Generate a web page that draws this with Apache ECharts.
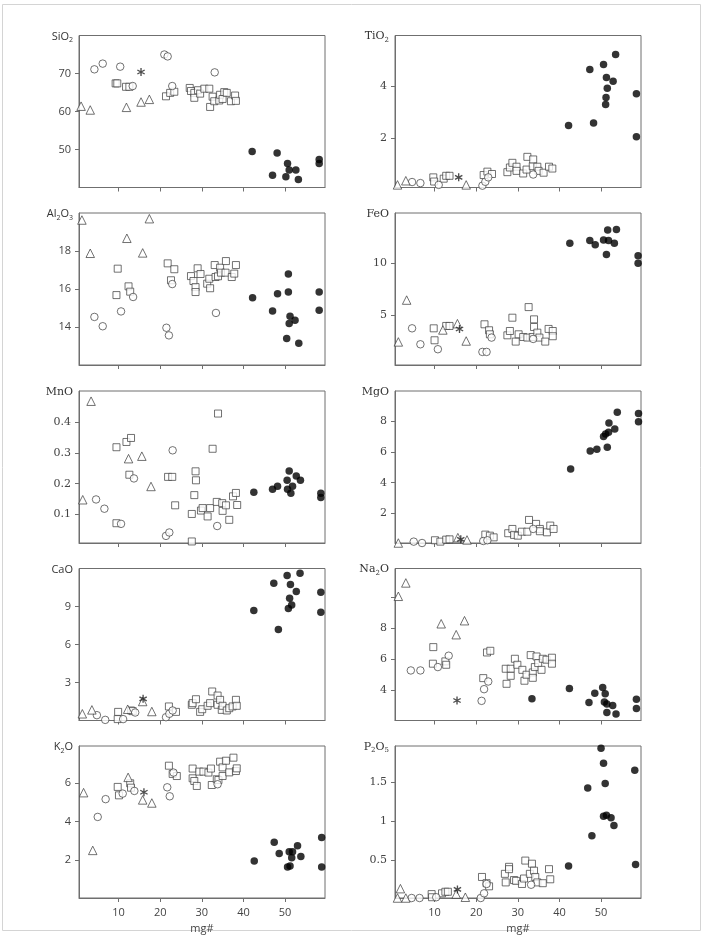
<!DOCTYPE html>
<html>
<head>
<meta charset="utf-8">
<script src="https://cdn.jsdelivr.net/npm/echarts@6/dist/echarts.min.js"></script>
<style>
html,body{margin:0;padding:0;background:#fff;}
#chart{width:705px;height:936px;}
</style>
</head>
<body>
<div id="chart"></div>
<script>
// mg# vs oxide. [mg#, wt%]
var xTicks = [10, 20, 30, 40, 50];

var sio2Tri  = [[1.0,61.4],[3.2,60.4],[11.9,61.1],[15.4,62.5],[17.4,63.2]];
var sio2Circ = [[4.2,71.1],[6.2,72.6],[10.4,71.8],[21.0,75.0],[21.8,74.5],[13.4,66.7],[22.9,66.7],[33.1,70.3]];
var sio2Sq   = [[9.3,67.4],[9.7,67.4],[11.8,66.5],[12.6,66.5],[21.4,64.0],[22.4,64.9],[23.4,65.2],[27.1,66.2],[27.4,65.4],[28.2,64.9],[28.2,63.6],[29.1,65.6],[29.6,64.7],[30.6,66.0],[31.8,66.0],[32.0,61.2],[32.6,63.9],[33.0,62.7],[34.2,62.9],[34.4,64.4],[35.0,63.3],[35.4,65.1],[36.0,64.9],[37.0,62.7],[38.0,64.2],[38.2,62.8]];
var sio2Star = [[15.4,70.4]];
var sio2Fill = [[42.1,49.5],[47.0,43.2],[48.1,49.1],[50.6,46.3],[51.0,44.6],[50.2,42.8],[52.6,44.6],[53.2,42.1],[58.2,47.4],[58.2,46.3]];

var tio2Tri  = [[1.1,0.2],[3.1,0.36],[17.6,0.2]];
var tio2Circ = [[4.6,0.31],[6.6,0.27],[11.0,0.2],[21.5,0.17],[22.2,0.32],[22.9,0.49],[33.7,0.6]];
var tio2Sq   = [[9.7,0.49],[9.9,0.33],[12.2,0.44],[12.8,0.55],[13.6,0.55],[21.8,0.58],[22.7,0.71],[23.8,0.62],[27.5,0.69],[28.1,0.87],[28.7,1.05],[29.7,0.9],[29.7,0.74],[31.3,0.64],[32.1,0.79],[32.3,1.28],[33.6,0.92],[33.7,1.18],[34.7,0.9],[35.0,0.74],[36.2,0.67],[37.5,0.9],[38.3,0.83]];
var tio2Star = [[15.8,0.49]];
var tio2Fill = [[42.2,2.49],[47.3,4.64],[48.2,2.58],[50.6,4.83],[51.3,4.33],[51.5,3.92],[51.2,3.56],[51.1,3.29],[52.9,4.19],[53.5,5.22],[58.5,3.71],[58.5,2.05]];

var al2o3Tri  = [[1.2,19.63],[3.2,17.88],[12.0,18.67],[15.8,17.9],[17.4,19.7]];
var al2o3Circ = [[4.2,14.53],[6.2,14.04],[10.6,14.82],[13.5,15.58],[21.5,13.96],[22.1,13.56],[22.9,16.26],[33.4,14.74]];
var al2o3Sq   = [[9.8,17.07],[9.5,15.68],[12.4,16.14],[12.8,15.86],[21.8,17.35],[23.4,17.04],[22.6,16.46],[27.4,16.68],[28.0,16.42],[28.5,16.1],[28.5,15.84],[29.0,17.09],[29.7,16.79],[31.3,16.28],[32.0,16.04],[31.8,16.54],[33.1,17.26],[33.3,16.63],[33.9,16.67],[34.4,17.12],[34.6,16.86],[35.8,17.47],[35.7,16.86],[37.2,16.63],[37.8,16.81],[38.2,17.26]];
var al2o3Star = [];
var al2o3Fill = [[42.2,15.54],[47.0,14.84],[48.2,15.75],[50.8,16.79],[50.8,15.84],[51.2,14.56],[51.0,14.18],[52.4,14.35],[50.4,13.39],[53.3,13.14],[58.2,15.84],[58.2,14.88]];

var feoTri  = [[1.3,2.39],[3.3,6.45],[12.0,3.55],[15.5,4.16],[17.6,2.48]];
var feoCirc = [[4.6,3.71],[6.6,2.16],[10.8,1.68],[21.5,1.42],[22.5,1.42],[23.7,2.81],[33.7,2.68]];
var feoSq   = [[9.8,3.71],[10.0,2.55],[12.8,3.94],[13.6,3.94],[22.0,4.1],[23.1,3.52],[23.3,3.13],[27.5,3.03],[28.1,3.45],[28.7,4.74],[29.5,2.42],[30.2,3.13],[31.3,2.87],[32.3,2.81],[32.6,5.77],[33.6,2.87],[33.9,4.58],[33.9,3.84],[34.7,3.29],[35.2,2.81],[36.6,2.42],[37.4,3.65],[38.4,3.45],[38.4,2.94]];
var feoStar = [[16.0,3.65]];
var feoFill = [[42.5,11.97],[47.3,12.23],[48.6,11.81],[50.6,12.29],[51.6,13.26],[51.8,12.23],[51.3,10.87],[53.2,11.97],[53.7,13.29],[58.9,10.74],[58.9,10.03]];

var mnoTri  = [[1.4,0.148],[3.4,0.467],[12.4,0.281],[15.6,0.289],[17.8,0.191]];
var mnoCirc = [[4.6,0.149],[6.6,0.119],[10.6,0.07],[13.7,0.217],[21.4,0.031],[22.2,0.042],[23.0,0.308],[33.7,0.063]];
var mnoSq   = [[9.5,0.318],[9.5,0.072],[11.9,0.335],[13.0,0.348],[12.6,0.229],[21.9,0.222],[22.9,0.222],[23.6,0.13],[27.6,0.102],[27.6,0.013],[28.2,0.163],[28.5,0.24],[28.6,0.211],[29.8,0.113],[30.2,0.121],[31.4,0.094],[32.0,0.121],[32.6,0.313],[33.9,0.427],[33.6,0.141],[34.9,0.137],[35.0,0.112],[35.8,0.13],[36.6,0.083],[37.5,0.159],[38.2,0.17],[38.5,0.131]];
var mnoStar = [];
var mnoFill = [[42.5,0.172],[47.0,0.182],[48.2,0.192],[51.0,0.241],[50.5,0.211],[50.6,0.182],[51.4,0.169],[51.8,0.192],[52.7,0.225],[53.7,0.211],[58.6,0.169],[58.6,0.155]];

var mgoTri  = [[1.3,0.05],[15.6,0.4],[17.8,0.25]];
var mgoCirc = [[5.0,0.14],[7.0,0.05],[21.7,0.18],[22.7,0.23],[33.7,0.97]];
var mgoSq   = [[10.1,0.23],[11.4,0.14],[12.8,0.27],[13.6,0.29],[22.2,0.6],[23.3,0.53],[24.2,0.42],[27.7,0.69],[28.7,0.97],[29.1,0.58],[30.0,0.53],[31.0,0.79],[32.3,0.79],[32.7,1.56],[34.4,1.3],[35.3,0.97],[35.3,0.82],[37.0,0.75],[37.8,1.19],[38.6,0.97]];
var mgoStar = [[16.3,0.29]];
var mgoFill = [[42.7,4.9],[47.4,6.08],[49.0,6.19],[50.6,7.02],[51.1,7.19],[51.8,7.3],[51.5,6.32],[51.9,7.91],[53.3,7.52],[53.9,8.61],[59.0,8.52],[59.0,7.98]];

var caoTri  = [[1.3,0.53],[3.6,0.84],[12.2,0.89],[15.8,1.5],[18.0,0.71]];
var caoCirc = [[4.8,0.42],[6.8,0.05],[11.1,0.11],[14.0,0.63],[21.4,0.26],[22.2,0.53],[23.0,0.79]];
var caoSq   = [[9.9,0.68],[9.8,0.11],[13.0,0.79],[13.4,0.74],[22.1,1.11],[23.8,0.68],[27.6,1.24],[27.8,1.37],[28.6,1.68],[29.6,0.68],[30.1,0.89],[31.4,1.16],[32.0,1.37],[32.5,2.29],[33.8,1.97],[33.8,1.24],[34.4,1.63],[34.8,0.84],[35.0,1.16],[36.0,0.79],[36.6,0.97],[37.4,1.11],[38.2,1.63],[38.4,1.16]];
var caoStar = [[15.9,1.71]];
var caoFill = [[42.5,8.68],[47.3,10.84],[48.4,7.18],[50.5,11.45],[51.3,10.74],[51.1,9.66],[50.8,8.84],[51.6,9.11],[52.7,10.18],[53.6,11.63],[58.6,10.13],[58.6,8.55]];

var na2oTri  = [[1.3,10.09],[3.1,10.96],[11.6,8.3],[15.2,7.59],[17.2,8.5]];
var na2oCirc = [[4.3,5.26],[6.6,5.26],[10.8,5.48],[13.4,6.22],[21.3,3.28],[21.9,4.04],[22.9,4.54]];
var na2oSq   = [[9.7,6.78],[9.6,5.7],[12.6,5.85],[12.8,5.63],[22.6,6.43],[23.4,6.54],[21.7,4.76],[27.3,4.39],[27.1,5.37],[28.3,5.37],[28.3,4.91],[29.3,6.02],[29.9,5.63],[31.1,5.3],[31.6,4.59],[32.1,4.98],[33.1,6.26],[33.6,5.13],[33.6,4.78],[34.1,5.48],[34.5,6.17],[34.9,5.74],[35.7,5.3],[36.0,6.02],[36.9,5.96],[38.2,6.09],[38.2,5.7]];
var na2oStar = [[15.4,3.3]];
var na2oFill = [[33.4,3.41],[42.4,4.09],[47.1,3.17],[48.5,3.78],[50.4,4.15],[51.0,3.74],[50.8,3.2],[51.4,3.07],[51.4,2.52],[52.8,2.98],[53.6,2.43],[58.5,3.39],[58.5,2.78]];

var k2oTri  = [[1.6,5.51],[3.8,2.49],[12.3,6.31],[15.8,5.13],[18.0,4.97]];
var k2oCirc = [[5.0,4.24],[6.9,5.17],[11.0,5.46],[13.8,5.6],[21.7,5.79],[22.3,5.32],[23.2,6.56],[33.8,5.95]];
var k2oSq   = [[9.8,5.81],[10.1,5.37],[12.8,6.0],[13.0,5.77],[22.1,6.92],[23.0,6.49],[24.0,6.38],[27.8,6.77],[27.8,6.26],[28.2,6.12],[28.8,5.86],[29.4,6.61],[30.4,6.61],[31.6,6.56],[32.2,6.77],[32.4,5.91],[33.6,6.21],[34.0,6.17],[34.4,7.13],[35.0,6.38],[35.0,6.83],[35.8,7.18],[36.6,6.57],[37.6,7.34],[38.2,6.64],[38.4,6.78]];
var k2oStar = [[16.1,5.53]];
var k2oFill = [[42.6,1.93],[47.4,2.92],[48.6,2.33],[51.0,2.42],[51.8,2.42],[51.6,2.1],[50.6,1.62],[51.2,1.67],[53.0,2.73],[53.8,2.17],[58.8,3.17],[58.8,1.62]];

var p2o5Tri  = [[1.1,0.01],[1.8,0.13],[3.1,0.01],[15.2,0.06],[17.4,0.02]];
var p2o5Circ = [[4.5,0.01],[6.4,0.01],[10.4,0.02],[21.1,0.01],[21.9,0.07],[22.5,0.19],[33.2,0.18]];
var p2o5Sq   = [[9.3,0.06],[9.4,0.02],[11.8,0.07],[12.6,0.09],[13.2,0.09],[21.4,0.28],[22.5,0.2],[23.1,0.16],[26.9,0.32],[27.1,0.21],[27.9,0.41],[27.9,0.38],[29.1,0.24],[29.6,0.23],[31.0,0.19],[31.5,0.26],[31.8,0.49],[32.9,0.32],[33.4,0.45],[33.9,0.36],[34.2,0.28],[34.7,0.21],[36.0,0.2],[37.5,0.38],[37.8,0.25]];
var p2o5Star = [[15.5,0.12]];
var p2o5Fill = [[42.2,0.42],[46.8,1.42],[47.8,0.81],[50.0,1.93],[50.6,1.74],[51.0,1.48],[50.6,1.06],[51.3,1.07],[52.4,1.04],[53.1,0.94],[58.1,1.65],[58.3,0.44]];

var SANS = '"Open Sans", sans-serif';
var SERIF = '"DejaVu Serif", serif';

var panels = [
	{label:'{n|SiO}{s|2}', col:0, row:0, min:40, max:80, ticks:[50,60,70], labels:[50,60,70], font:SANS,
		tri:sio2Tri, circ:sio2Circ, sq:sio2Sq, star:sio2Star, fill:sio2Fill},
	{label:'{n|TiO}{s|2}', col:1, row:0, min:0.1, max:5.95, ticks:[2,4], labels:[2,4], font:SERIF,
		tri:tio2Tri, circ:tio2Circ, sq:tio2Sq, star:tio2Star, fill:tio2Fill},
	{label:'{n|Al}{s|2}{n|O}{s|3}', col:0, row:1, min:12, max:20, ticks:[14,16,18], labels:[14,16,18], font:SANS,
		tri:al2o3Tri, circ:al2o3Circ, sq:al2o3Sq, star:al2o3Star, fill:al2o3Fill},
	{label:'{n|FeO}', col:1, row:1, min:0.15, max:14.9, ticks:[5,10], labels:[5,10], font:SERIF,
		tri:feoTri, circ:feoCirc, sq:feoSq, star:feoStar, fill:feoFill},
	{label:'{n|MnO}', col:0, row:2, min:0.008, max:0.5, ticks:[0.1,0.2,0.3,0.4], labels:[0.1,0.2,0.3,0.4], font:SERIF,
		tri:mnoTri, circ:mnoCirc, sq:mnoSq, star:mnoStar, fill:mnoFill},
	{label:'{n|MgO}', col:1, row:2, min:0.05, max:10, ticks:[2,4,6,8], labels:[2,4,6,8], font:SERIF,
		tri:mgoTri, circ:mgoCirc, sq:mgoSq, star:mgoStar, fill:mgoFill},
	{label:'{n|CaO}', col:0, row:3, min:0, max:12, ticks:[3,6,9], labels:[3,6,9], font:SANS,
		tri:caoTri, circ:caoCirc, sq:caoSq, star:caoStar, fill:caoFill},
	{label:'{n|Na}{s|2}{n|O}', col:1, row:3, min:2, max:11.9, ticks:[4,6,8,10], labels:[4,6,8], font:SERIF,
		tri:na2oTri, circ:na2oCirc, sq:na2oSq, star:na2oStar, fill:na2oFill},
	{label:'{n|K}{s|2}{n|O}', col:0, row:4, min:0, max:7.95, ticks:[2,4,6], labels:[2,4,6], font:SANS,
		tri:k2oTri, circ:k2oCirc, sq:k2oSq, star:k2oStar, fill:k2oFill},
	{label:'{n|P}{s|2}{n|O}{s|5}', col:1, row:4, min:0.01, max:1.96, ticks:[0.5,1,1.5], labels:[0.5,1,1.5], font:SERIF,
		tri:p2o5Tri, circ:p2o5Circ, sq:p2o5Sq, star:p2o5Star, fill:p2o5Fill}
];

var colLeft = [79, 395];
var rowTop = [35.5, 213, 391, 568.5, 746];
var PW = 246, PH = 152;
var AXIS = '#6f6f6f';

// asterisk made of three bars
var STAR = 'path://M-1.6,-10L1.6,-10L1.6,10L-1.6,10Z M9.46,3.61L7.86,6.39L-9.46,-3.61L-7.86,-6.39Z M-7.86,6.39L-9.46,3.61L7.86,-6.39L9.46,-3.61Z';

var grid = [], xAxis = [], yAxis = [], series = [], graphic = [];

graphic.push({type:'rect', shape:{x:2.5, y:4.5, width:698, height:926}, style:{fill:'none', stroke:'#d4d4d4', lineWidth:1}, silent:true});

panels.forEach(function(p, i){
	var left = colLeft[p.col], top = rowTop[p.row];
	var bottomRow = p.row == 4;
	grid.push({left:left, top:top, width:PW, height:PH, show:true, borderColor:AXIS, borderWidth:1});
	xAxis.push({
		gridIndex:i, type:'value', min:0.5, max:59.6,
		axisLine:{show:true, lineStyle:{color:AXIS}},
		axisTick:{show:true, length:4, customValues:xTicks, lineStyle:{color:AXIS}},
		axisLabel:{show:bottomRow, customValues:xTicks, margin:9, fontSize:11, color:'#444', fontFamily:SANS},
		splitLine:{show:false},
		name: bottomRow ? 'mg#' : '',
		nameLocation:'middle', nameGap:25,
		nameTextStyle:{fontSize:11, color:'#444', fontFamily:SANS}
	});
	yAxis.push({
		gridIndex:i, type:'value', min:p.min, max:p.max,
		axisLine:{show:true, lineStyle:{color:AXIS}},
		axisTick:{show:true, length:4, customValues:p.ticks, lineStyle:{color:AXIS}},
		axisLabel:{customValues:p.labels, margin:8, fontSize:11, color:'#444', fontFamily:p.font},
		splitLine:{show:false}
	});

	var base = {type:'scatter', xAxisIndex:i, yAxisIndex:i, silent:true, animation:false};
	series.push(Object.assign({}, base, {data:p.sq, symbol:'rect', symbolSize:7,
		itemStyle:{color:'#fff', borderColor:'#3a3a3a', borderWidth:0.9}}));
	series.push(Object.assign({}, base, {data:p.circ, symbol:'circle', symbolSize:7.5,
		itemStyle:{color:'#fff', borderColor:'#3a3a3a', borderWidth:0.9}}));
	series.push(Object.assign({}, base, {data:p.tri, symbol:'triangle', symbolSize:8.5,
		itemStyle:{color:'#fff', borderColor:'#3a3a3a', borderWidth:0.9}}));
	series.push(Object.assign({}, base, {data:p.star, symbol:STAR, symbolSize:8,
		itemStyle:{color:'#222'}}));
	series.push(Object.assign({}, base, {data:p.fill, symbol:'circle', symbolSize:7.5,
		itemStyle:{color:'#000'}}));

	graphic.push({
		type:'text', x:left-6, y:top+1, silent:true,
		style:{
			text:p.label, align:'right', verticalAlign:'middle',
			rich:{
				n:{fontSize:11, lineHeight:14, fontFamily:p.font, fill:'#333'},
				s:{fontSize:7, lineHeight:7, verticalAlign:'bottom', fontFamily:p.font, fill:'#333'}
			}
		}
	});
});

var myChart = echarts.init(document.getElementById('chart'));
myChart.setOption({
	animation:false,
	backgroundColor:'#fff',
	grid:grid,
	xAxis:xAxis,
	yAxis:yAxis,
	series:series,
	graphic:graphic
});
</script>
</body>
</html>
